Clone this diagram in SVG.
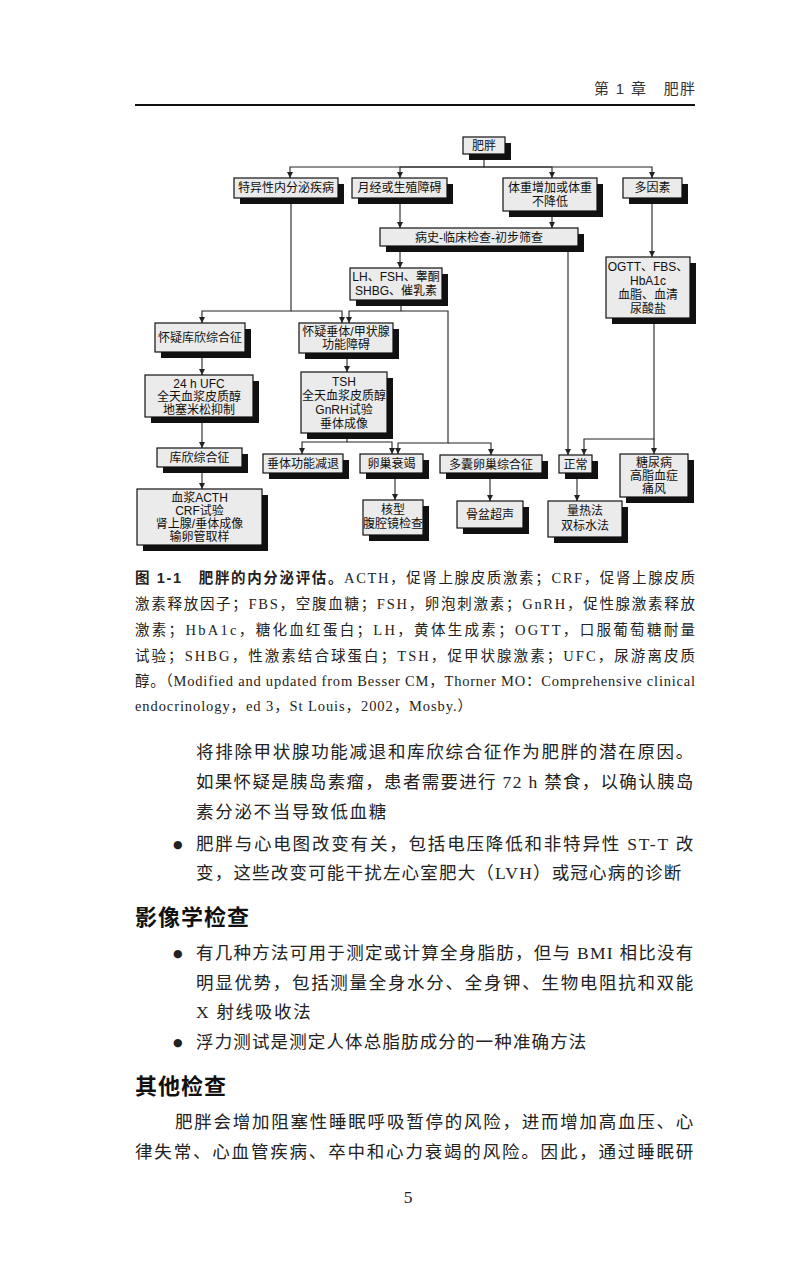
<svg xmlns="http://www.w3.org/2000/svg" width="800" height="1270" viewBox="0 0 800 1270">
<defs>
<marker id="ah" markerWidth="6" markerHeight="6" refX="6" refY="3" orient="auto" markerUnits="userSpaceOnUse"><path d="M0,0 L6,3 L0,6 z" fill="#222"/></marker>
<style>
.box{fill:#ebebeb;stroke:#111;stroke-width:1.2}
.sh{fill:#111}
.bt{font-family:"Liberation Sans","Noto Sans CJK SC",sans-serif;font-size:12px;text-anchor:middle;fill:#111}
.cn{fill:none;stroke:#222;stroke-width:1.1;marker-end:url(#ah)}
.cap{font-family:"Liberation Serif","Noto Sans CJK SC",serif;font-size:14.5px;fill:#222}
.capb{font-family:"Liberation Sans","Noto Sans CJK SC",sans-serif;font-weight:bold}
.body{font-family:"Liberation Serif","Noto Sans CJK SC",serif;font-size:17.5px;fill:#222;letter-spacing:1.7px}
.hd{font-family:"Liberation Sans","Noto Sans CJK SC",sans-serif;font-size:22px;font-weight:bold;fill:#111;letter-spacing:1px}
.bul{font-family:"DejaVu Sans",sans-serif;font-size:11px;fill:#222}
.hdr{font-family:"Liberation Sans","Noto Sans CJK SC",sans-serif;font-size:15px;fill:#333}
</style>
</defs>
<rect width="800" height="1270" fill="#fff"/>

<!-- page header -->
<text class="hdr" x="594" y="94" textLength="101" lengthAdjust="spacing" xml:space="preserve">第 1 章　肥胖</text>
<line x1="135" y1="105" x2="695" y2="105" stroke="#111" stroke-width="2"/>

<!-- connectors -->
<g id="connectors">
<path class="cn" d="M484,153 V167 H290 V178"/>
<path class="cn" d="M484,167 H400 V178"/>
<path class="cn" d="M484,167 H552 V178"/>
<path class="cn" d="M484,167 H652 V178"/>
<path class="cn" d="M400,198 V228"/>
<path class="cn" d="M552,211 V228"/>
<path class="cn" d="M652,198 V257"/>
<path class="cn" d="M400,246 V268"/>
<path class="cn" d="M568,246 V455"/>
<path class="cn" d="M291,198 V311 H202 V323"/>
<path class="cn" d="M291,311 H342 V323"/>
<path class="cn" d="M401,300 V311 H349 V323"/>
<path class="cn" d="M401,311 H448 V443 H398 V454"/>
<path class="cn" d="M448,443 H491 V455"/>
<path class="cn" d="M202,352 V375"/>
<path class="cn" d="M202,417 V448"/>
<path class="cn" d="M202,467 V489"/>
<path class="cn" d="M347,353 V372"/>
<path class="cn" d="M347,433 V442 H302 V454"/>
<path class="cn" d="M347,442 H392 V454"/>
<path class="cn" d="M395,473 V500"/>
<path class="cn" d="M490,473 V501"/>
<path class="cn" d="M577,473 V501"/>
<path class="cn" d="M654,318 V439 H584 V455"/>
<path class="cn" d="M654,439 V454"/>
</g>

<!-- nodes -->
<g id="n-feipang"><rect class="sh" x="469" y="143" width="42" height="17"/><rect class="box" x="463" y="137" width="42" height="17"/><text class="bt" x="484" y="150">肥胖</text></g>
<g id="n-teyixing"><rect class="sh" x="240" y="184" width="104" height="20"/><rect class="box" x="234" y="178" width="104" height="20"/><text class="bt" x="286" y="192">特异性内分泌疾病</text></g>
<g id="n-yuejing"><rect class="sh" x="358" y="184" width="95" height="20"/><rect class="box" x="352" y="178" width="95" height="20"/><text class="bt" x="399.5" y="192">月经或生殖障碍</text></g>
<g id="n-tizhong"><rect class="sh" x="509" y="184" width="94" height="33"/><rect class="box" x="503" y="178" width="94" height="33"/><text class="bt" x="550" y="192">体重增加或体重</text><text class="bt" x="550" y="206">不降低</text></g>
<g id="n-duoyinsu"><rect class="sh" x="629" y="184" width="59" height="20"/><rect class="box" x="623" y="178" width="59" height="20"/><text class="bt" x="652.5" y="192">多因素</text></g>
<g id="n-bingshi"><rect class="sh" x="386" y="234" width="198" height="18"/><rect class="box" x="380" y="228" width="198" height="18"/><text class="bt" x="479" y="241.5">病史-临床检查-初步筛查</text></g>
<g id="n-lh"><rect class="sh" x="356" y="274" width="92" height="32"/><rect class="box" x="350" y="268" width="92" height="32"/><text class="bt" x="396" y="281">LH、FSH、睾酮</text><text class="bt" x="396" y="295">SHBG、催乳素</text></g>
<g id="n-ogtt"><rect class="sh" x="612" y="263" width="84" height="61"/><rect class="box" x="606" y="257" width="84" height="61"/><text class="bt" x="648" y="271">OGTT、FBS、</text><text class="bt" x="648" y="285">HbA1c</text><text class="bt" x="648" y="299">血脂、血清</text><text class="bt" x="648" y="313">尿酸盐</text></g>
<g id="n-huaiyi-kuxin"><rect class="sh" x="161" y="329" width="90" height="29"/><rect class="box" x="155" y="323" width="90" height="29"/><text class="bt" x="200" y="342">怀疑库欣综合征</text></g>
<g id="n-huaiyi-chuiti"><rect class="sh" x="305" y="329" width="94" height="30"/><rect class="box" x="299" y="323" width="94" height="30"/><text class="bt" x="346" y="336">怀疑垂体/甲状腺</text><text class="bt" x="346" y="349">功能障碍</text></g>
<g id="n-ufc"><rect class="sh" x="151" y="381" width="108" height="42"/><rect class="box" x="145" y="375" width="108" height="42"/><text class="bt" x="199" y="388">24 h UFC</text><text class="bt" x="199" y="401">全天血浆皮质醇</text><text class="bt" x="199" y="414">地塞米松抑制</text></g>
<g id="n-tsh"><rect class="sh" x="307" y="378" width="86" height="61"/><rect class="box" x="301" y="372" width="86" height="61"/><text class="bt" x="344" y="386">TSH</text><text class="bt" x="344" y="400">全天血浆皮质醇</text><text class="bt" x="344" y="414">GnRH试验</text><text class="bt" x="344" y="428">垂体成像</text></g>
<g id="n-kuxin"><rect class="sh" x="163" y="454" width="85" height="19"/><rect class="box" x="157" y="448" width="85" height="19"/><text class="bt" x="199.5" y="462">库欣综合征</text></g>
<g id="n-chuiti-jiantui"><rect class="sh" x="269" y="460" width="80" height="19"/><rect class="box" x="263" y="454" width="80" height="19"/><text class="bt" x="303" y="468">垂体功能减退</text></g>
<g id="n-luanchao"><rect class="sh" x="366" y="460" width="63" height="19"/><rect class="box" x="360" y="454" width="63" height="19"/><text class="bt" x="391.5" y="468">卵巢衰竭</text></g>
<g id="n-duonang"><rect class="sh" x="446" y="461" width="102" height="18"/><rect class="box" x="440" y="455" width="102" height="18"/><text class="bt" x="491" y="468.5">多囊卵巢综合征</text></g>
<g id="n-zhengchang"><rect class="sh" x="565" y="461" width="33" height="18"/><rect class="box" x="559" y="455" width="33" height="18"/><text class="bt" x="575.5" y="468.5">正常</text></g>
<g id="n-tangniao"><rect class="sh" x="626" y="460" width="68" height="43"/><rect class="box" x="620" y="454" width="68" height="43"/><text class="bt" x="654" y="467">糖尿病</text><text class="bt" x="654" y="480">高脂血症</text><text class="bt" x="654" y="493">痛风</text></g>
<g id="n-acth"><rect class="sh" x="143" y="495" width="125" height="56"/><rect class="box" x="137" y="489" width="125" height="56"/><text class="bt" x="199.5" y="502">血浆ACTH</text><text class="bt" x="199.5" y="515">CRF试验</text><text class="bt" x="199.5" y="528">肾上腺/垂体成像</text><text class="bt" x="199.5" y="541">输卵管取样</text></g>
<g id="n-hexing"><rect class="sh" x="369" y="506" width="60" height="35"/><rect class="box" x="363" y="500" width="60" height="35"/><text class="bt" x="393" y="514">核型</text><text class="bt" x="393" y="528">腹腔镜检查</text></g>
<g id="n-gupen"><rect class="sh" x="463" y="507" width="66" height="27"/><rect class="box" x="457" y="501" width="66" height="27"/><text class="bt" x="490" y="519">骨盆超声</text></g>
<g id="n-reliang"><rect class="sh" x="554" y="507" width="74" height="36"/><rect class="box" x="548" y="501" width="74" height="36"/><text class="bt" x="585" y="515">量热法</text><text class="bt" x="585" y="530">双标水法</text></g>

<!-- caption -->
<g id="caption">
<text class="cap" x="135" y="583" textLength="560" lengthAdjust="spacing"><tspan class="capb">图 1-1　肥胖的内分泌评估。</tspan>ACTH，促肾上腺皮质激素；CRF，促肾上腺皮质</text>
<text class="cap" x="135" y="609" textLength="560" lengthAdjust="spacing">激素释放因子；FBS，空腹血糖；FSH，卵泡刺激素；GnRH，促性腺激素释放</text>
<text class="cap" x="135" y="635" textLength="560" lengthAdjust="spacing">激素；HbA1c，糖化血红蛋白；LH，黄体生成素；OGTT，口服葡萄糖耐量</text>
<text class="cap" x="135" y="661" textLength="560" lengthAdjust="spacing">试验；SHBG，性激素结合球蛋白；TSH，促甲状腺激素；UFC，尿游离皮质</text>
<text class="cap" x="135" y="686" textLength="560" lengthAdjust="spacing">醇。（Modified and updated from Besser CM，Thorner MO：Comprehensive clinical</text>
<text class="cap" x="135" y="711" textLength="337" lengthAdjust="spacing">endocrinology，ed 3，St Louis，2002，Mosby.）</text>
</g>

<!-- body text -->
<g id="body">
<text class="body" x="196" y="758" textLength="499" lengthAdjust="spacing">将排除甲状腺功能减退和库欣综合征作为肥胖的潜在原因。</text>
<text class="body" x="196" y="788" textLength="499" lengthAdjust="spacing">如果怀疑是胰岛素瘤，患者需要进行 72 h 禁食，以确认胰岛</text>
<text class="body" x="196" y="818">素分泌不当导致低血糖</text>
<text class="bul" x="173" y="848">●</text>
<text class="body" x="196" y="850" textLength="499" lengthAdjust="spacing">肥胖与心电图改变有关，包括电压降低和非特异性 ST-T 改</text>
<text class="body" x="196" y="879" textLength="487" lengthAdjust="spacing">变，这些改变可能干扰左心室肥大（LVH）或冠心病的诊断</text>
<text class="hd" x="135" y="925">影像学检查</text>
<text class="bul" x="173" y="957">●</text>
<text class="body" x="196" y="959" textLength="499" lengthAdjust="spacing">有几种方法可用于测定或计算全身脂肪，但与 BMI 相比没有</text>
<text class="body" x="196" y="989" textLength="499" lengthAdjust="spacing">明显优势，包括测量全身水分、全身钾、生物电阻抗和双能</text>
<text class="body" x="196" y="1018">X 射线吸收法</text>
<text class="bul" x="173" y="1046">●</text>
<text class="body" x="196" y="1048" textLength="392" lengthAdjust="spacing">浮力测试是测定人体总脂肪成分的一种准确方法</text>
<text class="hd" x="135" y="1094">其他检查</text>
<text class="body" x="175" y="1128" textLength="520" lengthAdjust="spacing">肥胖会增加阻塞性睡眠呼吸暂停的风险，进而增加高血压、心</text>
<text class="body" x="135" y="1158" textLength="560" lengthAdjust="spacing">律失常、心血管疾病、卒中和心力衰竭的风险。因此，通过睡眠研</text>
<text class="body" x="408" y="1203" text-anchor="middle" style="letter-spacing:0">5</text>
</g>
</svg>
